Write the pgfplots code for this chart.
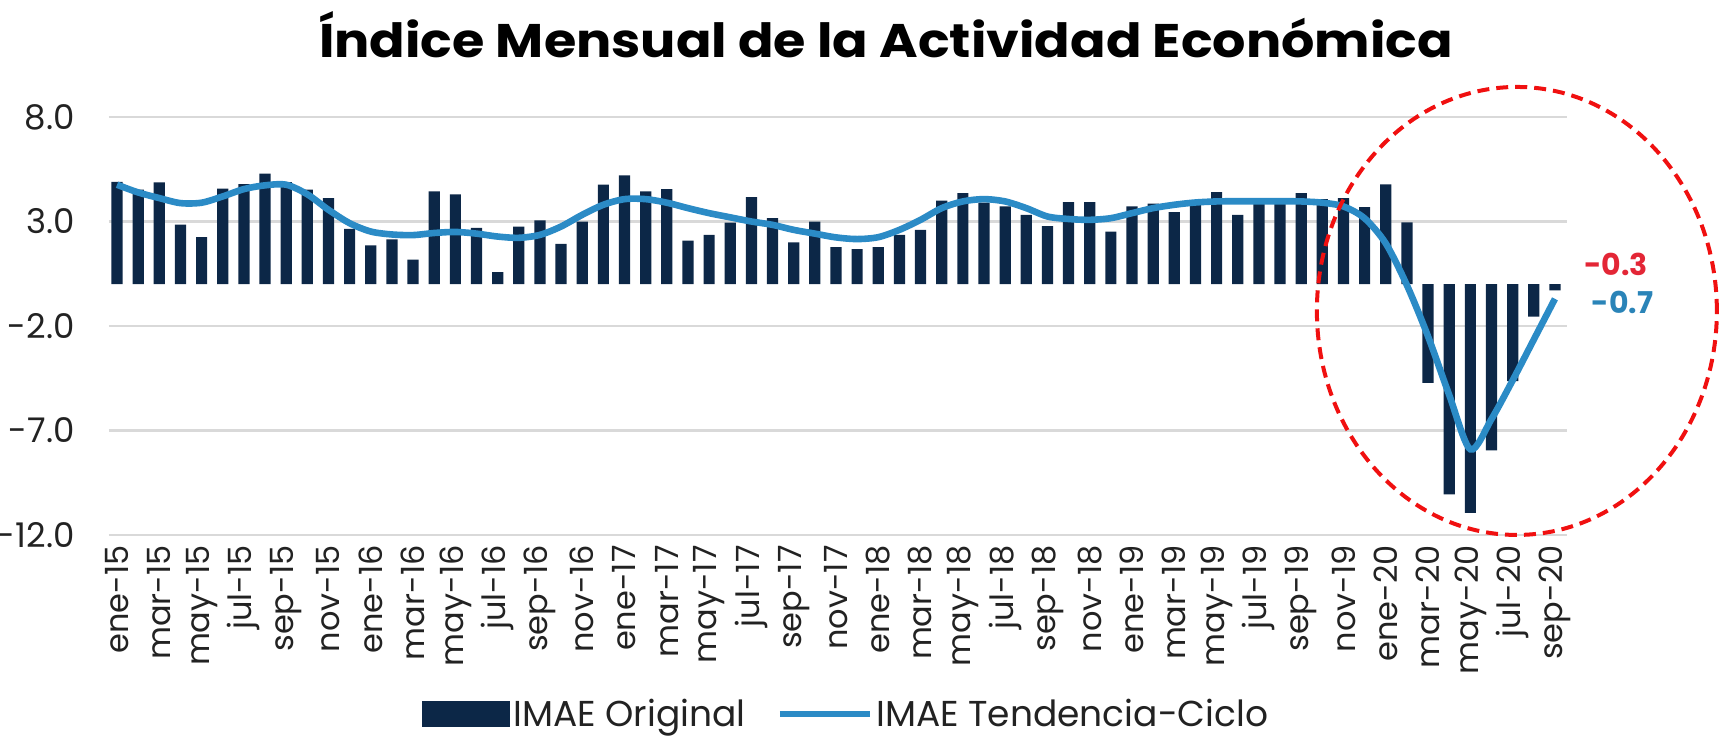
\documentclass[border=0pt]{standalone}
\usepackage{fontspec}
\setmainfont{Poppins}
\usepackage{pgfplots}
\pgfplotsset{compat=1.18}
\usepackage{pgfplotstable}
\definecolor{barblue}{HTML}{0C2747}
\definecolor{lineblue}{HTML}{2B8BC6}
\definecolor{lblblue}{HTML}{2A84B8}
\definecolor{lblred}{HTML}{E32636}
\definecolor{gridgray}{HTML}{D9D9D9}
\definecolor{txt}{HTML}{222222}
\definecolor{ellred}{HTML}{F01010}

\pgfplotstableread{
k bar trend
0 4.90 4.76
1 4.53 4.39
2 4.87 4.12
3 2.85 3.88
4 2.25 3.90
5 4.57 4.20
6 4.79 4.55
7 5.29 4.73
8 4.89 4.76
9 4.52 4.30
10 4.12 3.56
11 2.65 2.92
12 1.86 2.52
13 2.15 2.38
14 1.18 2.35
15 4.44 2.45
16 4.30 2.50
17 2.70 2.42
18 0.58 2.28
19 2.75 2.22
20 3.05 2.36
21 1.93 2.76
22 3.00 3.32
23 4.76 3.80
24 5.21 4.07
25 4.44 4.07
26 4.55 3.90
27 2.09 3.64
28 2.36 3.40
29 2.95 3.20
30 4.17 3.00
31 3.16 2.84
32 2.00 2.60
33 3.00 2.42
34 1.77 2.24
35 1.68 2.16
36 1.77 2.25
37 2.36 2.60
38 2.60 3.08
39 4.00 3.64
40 4.36 3.96
41 3.90 4.07
42 3.72 3.96
43 3.32 3.64
44 2.78 3.24
45 3.93 3.12
46 3.93 3.08
47 2.52 3.16
48 3.72 3.40
49 3.85 3.64
50 3.45 3.80
51 3.80 3.91
52 4.41 3.96
53 3.32 3.97
54 3.88 3.97
55 3.88 3.97
56 4.36 3.96
57 4.07 3.90
58 4.12 3.72
59 3.69 3.15
60 4.78 1.95
61 2.96 -0.05
62 -4.72 -2.50
63 -10.06 -5.30
64 -10.94 -7.90
65 -7.95 -6.45
66 -4.64 -4.60
67 -1.55 -2.65
68 -0.30 -0.70
}\imae

\begin{document}
\begin{tikzpicture}
\path[use as bounding box] (-54.5pt,-102.5pt) rectangle (805.5pt,267.5pt);
\begin{axis}[
  at={(0pt,0pt)}, anchor=south west,
  scale only axis, width=729pt, height=209pt,
  xmin=-0.38, xmax=68.57, ymin=-12, ymax=8,
  clip=false,
  ytick={-12,-7,-2,3,8},
  yticklabels={-12.0,-7.0,-2.0,3.0,8.0},
  xtick={0,2,...,68},
  xticklabels={ene-15,mar-15,may-15,jul-15,sep-15,nov-15,
               ene-16,mar-16,may-16,jul-16,sep-16,nov-16,
               ene-17,mar-17,may-17,jul-17,sep-17,nov-17,
               ene-18,mar-18,may-18,jul-18,sep-18,nov-18,
               ene-19,mar-19,may-19,jul-19,sep-19,nov-19,
               ene-20,mar-20,may-20,jul-20,sep-20},
  axis line style={draw=none},
  major tick length=0pt,
  ymajorgrids,
  grid style={gridgray, line width=1.3pt},
  yticklabel style={font=\fontsize{17}{20}\selectfont, text=txt, anchor=east, inner xsep=17pt, inner ysep=0pt},
  xticklabel style={font=\fontsize{16}{19}\selectfont, text=txt, rotate=90, anchor=east, inner xsep=5pt, inner ysep=0pt},
  title={\resizebox{567pt}{23pt}{\bfseries Índice Mensual de la Actividad Económica}},
  title style={at={(0.533,1)}, anchor=base, yshift=23.5pt, text=black, inner sep=0pt},
  legend columns=2,
  legend cell align=left,
  legend style={at={(0.2147,-0.428)}, anchor=west, draw=none, fill=none,
    font=\fontsize{18}{21}\selectfont, text=txt, inner sep=0pt,
    nodes={inner sep=1.5pt},
    /tikz/every even column/.append style={column sep=14pt}},
]
\addplot[ybar, bar width=5.6pt, bar shift=0pt, fill=barblue, draw=none,
  legend image code/.code={\fill[barblue] (0pt,-6.5pt) rectangle (44pt,6.5pt);}]
  table[x=k, y=bar]{\imae};
\addlegendentry{IMAE Original}
\addplot[lineblue, line width=3.3pt, smooth, mark=none,
  legend image code/.code={\draw[lineblue, line width=3.3pt] (0pt,0pt) -- (45pt,0pt);}]
  table[x=k, y=trend]{\imae};
\addlegendentry{IMAE Tendencia-Ciclo}
\draw[ellred, line width=2pt, dash pattern=on 6pt off 3.5pt] (axis cs:66.2,-1.28) ellipse [x radius=100pt, y radius=112pt];
\node[text=lblred, font=\bfseries\fontsize{15}{18}\selectfont] at (axis cs:70.9,0.93) {-0.3};
\node[text=lblblue, font=\bfseries\fontsize{15}{18}\selectfont] at (axis cs:71.2,-0.85) {-0.7};
\end{axis}
\end{tikzpicture}
\end{document}
